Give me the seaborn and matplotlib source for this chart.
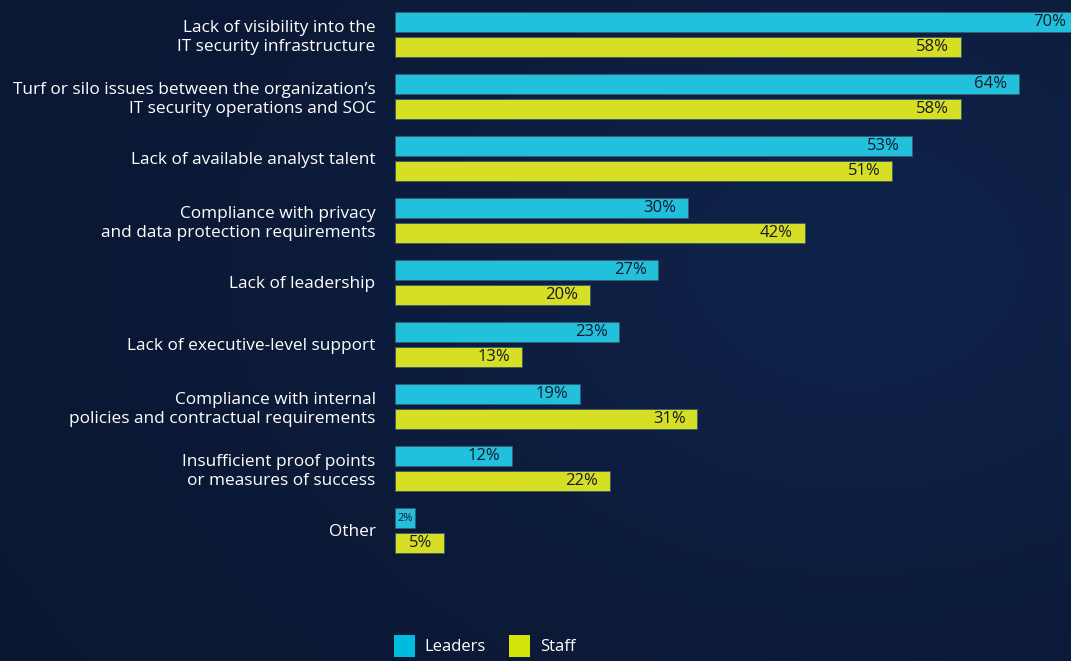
import numpy as np
import pandas as pd
import matplotlib
matplotlib.use("Agg")
import matplotlib.pyplot as plt
from matplotlib.patches import Patch
import seaborn as sns

# Survey responses: share of respondents citing each obstacle
categories = [
    "Lack of visibility into the\nIT security infrastructure",
    "Turf or silo issues between the organization\u2019s\nIT security operations and SOC",
    "Lack of available analyst talent",
    "Compliance with privacy\nand data protection requirements",
    "Lack of leadership",
    "Lack of executive-level support",
    "Compliance with internal\npolicies and contractual requirements",
    "Insufficient proof points\nor measures of success",
    "Other",
]
leaders = [70, 64, 53, 30, 27, 23, 19, 12, 2]
staff = [58, 58, 51, 42, 20, 13, 31, 22, 5]
groups = ["Leaders", "Staff"]

LEADERS_COLOR = "#21c1de"
STAFF_COLOR = "#d6df23"
BG = "#0c1a3a"
TEXT_DARK = "#16182a"

df = pd.DataFrame({
    "category": categories * 2,
    "value": leaders + staff,
    "group": [groups[0]] * len(categories) + [groups[1]] * len(categories),
})

sns.set_theme(style="white")
plt.rcParams["font.family"] = ["Open Sans", "DejaVu Sans"]

W, H = 1071, 661
fig = plt.figure(figsize=(W / 100, H / 100), dpi=100)
fig.patch.set_facecolor(BG)

# Subtle navy gradient behind everything
bg_ax = fig.add_axes([0, 0, 1, 1], zorder=-10)
yy, xx = np.mgrid[0:1:200j, 0:1:300j]
glow = np.exp(-(((xx - 0.8) / 0.5) ** 2 + ((yy - 0.4) / 0.6) ** 2))
c0 = np.array([11, 23, 50]) / 255
c1 = np.array([15, 34, 72]) / 255
img = c0[None, None, :] + (c1 - c0)[None, None, :] * glow[..., None]
bg_ax.imshow(img, aspect="auto", extent=[0, 1, 0, 1], origin="upper")
bg_ax.axis("off")

ax = fig.add_axes([395 / W, 1 - 600 / H, 1 - 395 / W, 600 / H])
ax.set_facecolor("none")

sns.barplot(
    data=df, y="category", x="value", hue="group",
    palette={"Leaders": LEADERS_COLOR, "Staff": STAFF_COLOR},
    orient="h", gap=0.2, width=0.8, legend=False, ax=ax,
    edgecolor="#3a5a6a", linewidth=0.6, saturation=1,
)

px_per_unit = 9.75
ax.set_xlim(0, (W - 395) / px_per_unit)
ax.set_ylim((600 - 34.5) / 62, -34.5 / 62)

for container in ax.containers:
    for bar in container:
        v = bar.get_width()
        yc = bar.get_y() + bar.get_height() / 2
        if v < 4:
            ax.text(v / 2, yc, f"{v:.0f}%", ha="center", va="center",
                    fontsize=8, color=TEXT_DARK)
        else:
            ax.text(v - 1.2, yc, f"{v:.0f}%", ha="right", va="center",
                    fontsize=12, color=TEXT_DARK, clip_on=True)

ax.set_xlabel("")
ax.set_ylabel("")
ax.set_xticks([])
ax.tick_params(axis="y", length=0, pad=14, labelsize=12.4, labelcolor="white")
for lbl in ax.get_yticklabels():
    lbl.set_horizontalalignment("right")
    lbl.set_multialignment("right")
    lbl.set_linespacing(1.18)
for s in ax.spines.values():
    s.set_visible(False)

handles = [Patch(facecolor="#00bcdc", edgecolor="none"),
           Patch(facecolor="#d4e30c", edgecolor="none")]
fig.legend(
    handles, groups, loc="lower left", bbox_to_anchor=(379 / W, -0.016),
    ncol=2, frameon=False, fontsize=12, labelcolor="white",
    handlelength=1.25, handleheight=1.58, handletextpad=0.6, columnspacing=1.4,
)

fig.savefig("out.png", dpi=100, facecolor=BG)
